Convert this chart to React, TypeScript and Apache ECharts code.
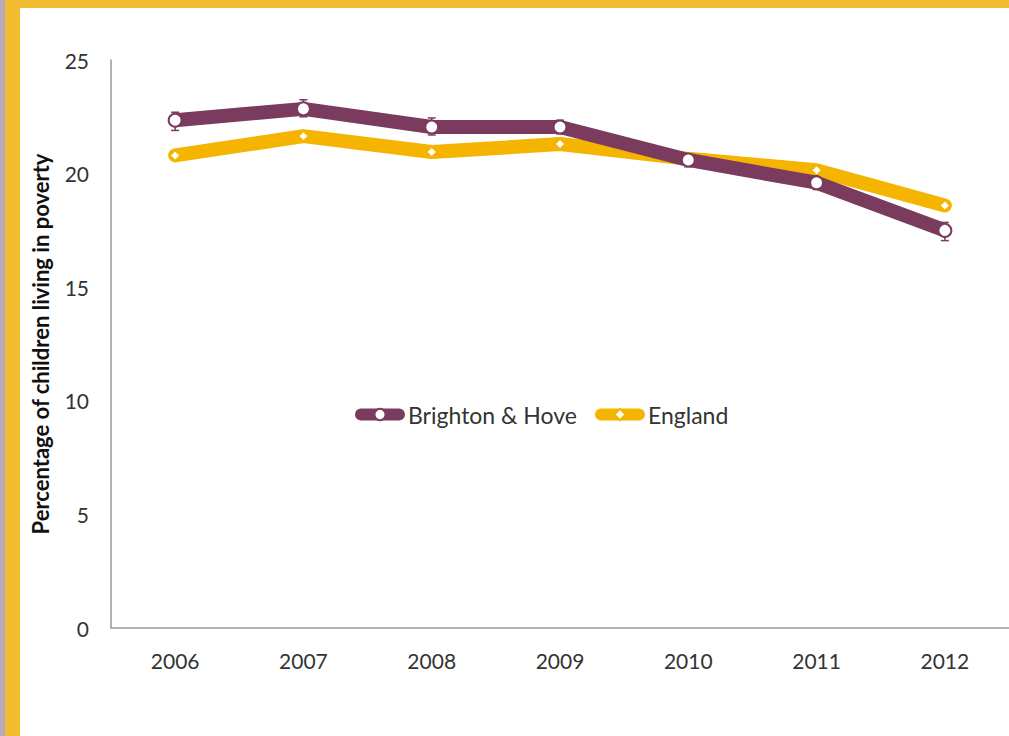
import React, { useEffect, useRef } from "react";
import * as echarts from "echarts";

const years = ["2006", "2007", "2008", "2009", "2010", "2011", "2012"];
const brighton = [22.35, 22.85, 22.05, 22.05, 20.6, 19.6, 17.5];
const brightonLow = [21.9, 22.5, 21.7, 21.75, 20.3, 19.3, 17.05];
const brightonHigh = [22.7, 23.25, 22.45, 22.35, 20.9, 19.9, 17.85];
const england = [20.8, 21.65, 20.95, 21.3, 20.65, 20.15, 18.6];

const PURPLE = "#7A3B5E";
const GOLD = "#F5B400";

export default function App() {
  const ref = useRef<HTMLDivElement>(null);
  useEffect(() => {
    const chart = echarts.init(ref.current!, null, { renderer: "svg" });
    const font = "Lato, 'Open Sans', sans-serif";
    chart.setOption({
      animation: false,
      backgroundColor: "#F2BC30",
      graphic: [
        { type: "rect", z: -10, shape: { x: 0, y: 0, width: 5, height: 736 }, style: { fill: "#B8A9BF" } },
        { type: "rect", z: -10, shape: { x: 20, y: 8, width: 989, height: 728 }, style: { fill: "#ffffff" } },
      ],
      grid: { left: 111, right: -11, top: 60, bottom: 108, containLabel: false },
      legend: {
        data: ["Brighton & Hove", "England"],
        left: 350,
        top: 398,
        itemWidth: 38,
        itemHeight: 14,
        itemGap: 18,
        lineStyle: { width: 12, cap: "round" },
        textStyle: { fontFamily: font, fontSize: 23, color: "#333", padding: [0, 0, 0, 4] },
      },
      xAxis: {
        type: "category",
        data: years,
        boundaryGap: true,
        axisLine: { lineStyle: { color: "#999", width: 1.5 } },
        axisTick: { show: false },
        axisLabel: { fontFamily: font, fontSize: 21, color: "#333", margin: 22 },
      },
      yAxis: {
        type: "value",
        min: 0,
        max: 25,
        interval: 5,
        name: "Percentage of children living in poverty",
        nameLocation: "middle",
        nameGap: 60,
        nameTextStyle: { fontFamily: font, fontSize: 22, fontWeight: "bold", color: "#111" },
        axisLine: { show: true, lineStyle: { color: "#999", width: 1.5 } },
        axisTick: { show: false },
        splitLine: { show: false },
        axisLabel: { fontFamily: font, fontSize: 21, color: "#333", margin: 22 },
      },
      series: [
        {
          name: "Brighton & Hove",
          type: "line",
          data: brighton,
          symbol: "circle",
          symbolSize: 13,
          z: 3,
          lineStyle: { color: PURPLE, width: 14, cap: "round", join: "round" },
          itemStyle: { color: "#fff", borderColor: PURPLE, borderWidth: 2 },
        },
        {
          name: "errors",
          type: "custom",
          z: 1,
          data: years.map((_, i) => [i, brightonLow[i], brightonHigh[i]]),
          renderItem: (params: any, api: any) => {
            const x = api.coord([api.value(0), 0])[0];
            const lo = api.coord([api.value(0), api.value(1)])[1];
            const hi = api.coord([api.value(0), api.value(2)])[1];
            const st = { stroke: PURPLE, lineWidth: 1.5 };
            return {
              type: "group",
              children: [
                { type: "line", shape: { x1: x, y1: lo, x2: x, y2: hi }, style: st },
                { type: "line", shape: { x1: x - 4, y1: lo, x2: x + 4, y2: lo }, style: st },
                { type: "line", shape: { x1: x - 4, y1: hi, x2: x + 4, y2: hi }, style: st },
              ],
            };
          },
        },
        {
          name: "England",
          type: "line",
          data: england,
          symbol: "diamond",
          symbolSize: 10,
          z: 2,
          lineStyle: { color: GOLD, width: 14, cap: "round", join: "round" },
          itemStyle: { color: "#fff", borderColor: GOLD, borderWidth: 1.5 },
        },
      ],
    });
    return () => chart.dispose();
  }, []);
  return (
    <div
      ref={ref}
      style={{ position: "fixed", left: 0, top: 0, width: 1009, height: 736 }}
    />
  );
}
